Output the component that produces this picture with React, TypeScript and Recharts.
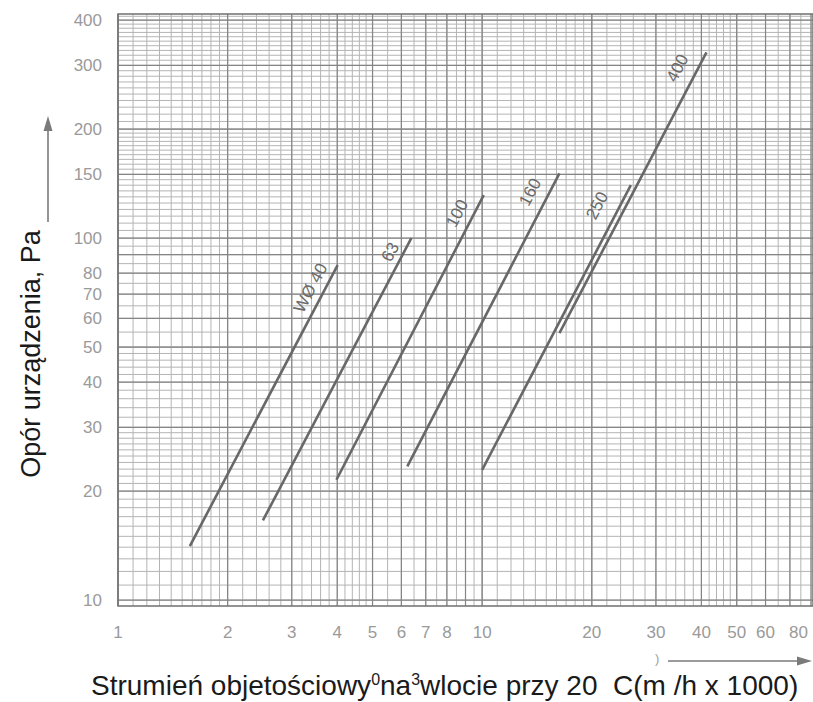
import { LineChart, Line, XAxis, YAxis, CartesianGrid, ReferenceDot, ReferenceArea } from "recharts";

// axis ticks
const xTicks = [1, 2, 3, 4, 5, 6, 7, 8, 10, 20, 30, 40, 50, 60, 80];
const yTicks = [10, 20, 30, 40, 50, 60, 70, 80, 100, 150, 200, 300, 400];

// curves: flow (m3/h x 1000) at each end, pressure drop (Pa) at each end
const flow40 = [1.575, 4.01];
const drop40 = [14.1, 84.2];
const flow63 = [2.5, 6.39];
const drop63 = [16.6, 100];
const flow100 = [3.98, 10.1];
const drop100 = [21.5, 131.5];
const flow160 = [6.23, 16.3];
const drop160 = [23.4, 151];
const flow250 = [10.0, 25.6];
const drop250 = [22.9, 140];
const flow400 = [16.3, 41.3];
const drop400 = [54.6, 326];

// curve captions
const captionTexts = ["WØ 40", "63", "100", "160", "250", "400"];
const captionFlows = [3.38, 5.6, 8.54, 13.55, 20.7, 34.4];
const captionDrops = [72.8, 91.5, 117, 134, 123, 295];

const xDomain = [1, 81];
const yDomain = [9.63, 416];

// log paper grid
const steps = (from: number, to: number, step: number) => {
  const out: number[] = [];
  for (let v = from; v <= to + 1e-9; v += step) out.push(+v.toFixed(2));
  return out;
};
const xGridMinor = [...steps(1, 2, 0.1), ...steps(2, 5, 0.2), ...steps(5, 10, 0.5), ...steps(10, 20, 1), ...steps(20, 50, 2), ...steps(50, 80, 5)];
const yGridMinor = [...steps(10, 30, 1), ...steps(30, 50, 2), ...steps(50, 200, 5), ...steps(200, 410, 10)];
const xGridMajor = [1, 2, 3, 4, 5, 6, 7, 8, 9, 10, 20, 30, 40, 50, 60, 70, 80];
const yGridMajor = [10, 20, 30, 40, 50, 60, 70, 80, 90, 100, 150, 200, 300, 400];

const toPoints = (xs: number[], ys: number[]) => xs.map((x, i) => ({ x, y: ys[i] }));
const curves = [
  toPoints(flow40, drop40),
  toPoints(flow63, drop63),
  toPoints(flow100, drop100),
  toPoints(flow160, drop160),
  toPoints(flow250, drop250),
  toPoints(flow400, drop400),
];

const FONT = "'Liberation Sans', Arial, sans-serif";
const TICK = "#9a9a9a";

const XTick = (props: any) => {
  const { x, y, payload } = props;
  const last = payload.value === 80;
  return (
    <text x={last ? x - 3 : x} y={y} dy="0.71em" textAnchor={last ? "end" : "middle"} fontSize={17} fill={TICK} fontFamily={FONT}>
      {payload.value}
    </text>
  );
};

export default function App() {
  return (
    <div style={{ position: "absolute", left: 0, top: 0, width: 813, height: 702, background: "#fff" }}>
      <LineChart width={813} height={702} margin={{ top: 14, right: 0, bottom: 66, left: 50 }}>
        <CartesianGrid verticalValues={xGridMinor} horizontalValues={yGridMinor} stroke="#b4b4b4" strokeWidth={1} />
        <CartesianGrid verticalValues={xGridMajor} horizontalValues={yGridMajor} stroke="#858585" strokeWidth={1.2} />
        <XAxis
          type="number"
          dataKey="x"
          scale="log"
          domain={xDomain}
          allowDataOverflow
          ticks={xTicks}
          interval={0}
          height={30}
          axisLine={false}
          tickLine={false}
          tickSize={0}
          tickMargin={20}
          tick={<XTick />}
        />
        <YAxis
          type="number"
          dataKey="y"
          scale="log"
          domain={yDomain}
          allowDataOverflow
          ticks={yTicks}
          interval={0}
          width={68}
          axisLine={false}
          tickLine={false}
          tickSize={0}
          tickMargin={16}
          tick={{ fontSize: 17, fill: TICK, fontFamily: FONT }}
        />
        <ReferenceArea x1={xDomain[0]} x2={xDomain[1]} y1={yDomain[0]} y2={yDomain[1]} fill="none" stroke="#707070" strokeWidth={1.5} />
        {curves.map((pts, i) => (
          <Line
            key={captionTexts[i]}
            data={pts}
            dataKey="y"
            type="linear"
            stroke="#686868"
            strokeWidth={2.6}
            dot={false}
            isAnimationActive={false}
          />
        ))}
        {captionTexts.map((t, i) => (
          <ReferenceDot
            key={"c" + t}
            x={captionFlows[i]}
            y={captionDrops[i]}
            r={0}
            shape={(p: any) => (
              <text
                x={p.cx}
                y={p.cy}
                transform={`rotate(-62 ${p.cx} ${p.cy})`}
                textAnchor="middle"
                dominantBaseline="central"
                fontSize={17}
                fill="#6a6a6a"
                fontFamily={FONT}
              >
                {t}
              </text>
            )}
          />
        ))}
      </LineChart>
      <svg width={813} height={702} style={{ position: "absolute", left: 0, top: 0, pointerEvents: "none" }}>
        <text
          x={0}
          y={0}
          transform="translate(40 354) rotate(-90)"
          textAnchor="middle"
          fontSize={27}
          fill="#1a1a1a"
          fontFamily={FONT}
        >
          Opór urządzenia, Pa
        </text>
        <line x1={48} y1={222} x2={48} y2={128} stroke="#7a7a7a" strokeWidth={1.6} />
        <polygon points="48,116 43.5,131 52.5,131" fill="#7a7a7a" />
        <text x={91} y={695} fontSize={28} fill="#1a1a1a" fontFamily={FONT} style={{ whiteSpace: "pre" }}>
          Strumień objetościowy
          <tspan fontSize={16} dy={-10}>0</tspan>
          <tspan fontSize={28} dy={10}>na</tspan>
          <tspan fontSize={16} dy={-10}>3</tspan>
          <tspan fontSize={28} dy={10}>{"wlocie przy 20  C(m /h x 1000)"}</tspan>
        </text>
        <text x={655} y={663} fontSize={13} fill="#a0a0a0" fontFamily={FONT}>)</text>
        <line x1={668} y1={661} x2={798} y2={661} stroke="#7a7a7a" strokeWidth={1.6} />
        <polygon points="812,661 797,656.5 797,665.5" fill="#7a7a7a" />
      </svg>
    </div>
  );
}
